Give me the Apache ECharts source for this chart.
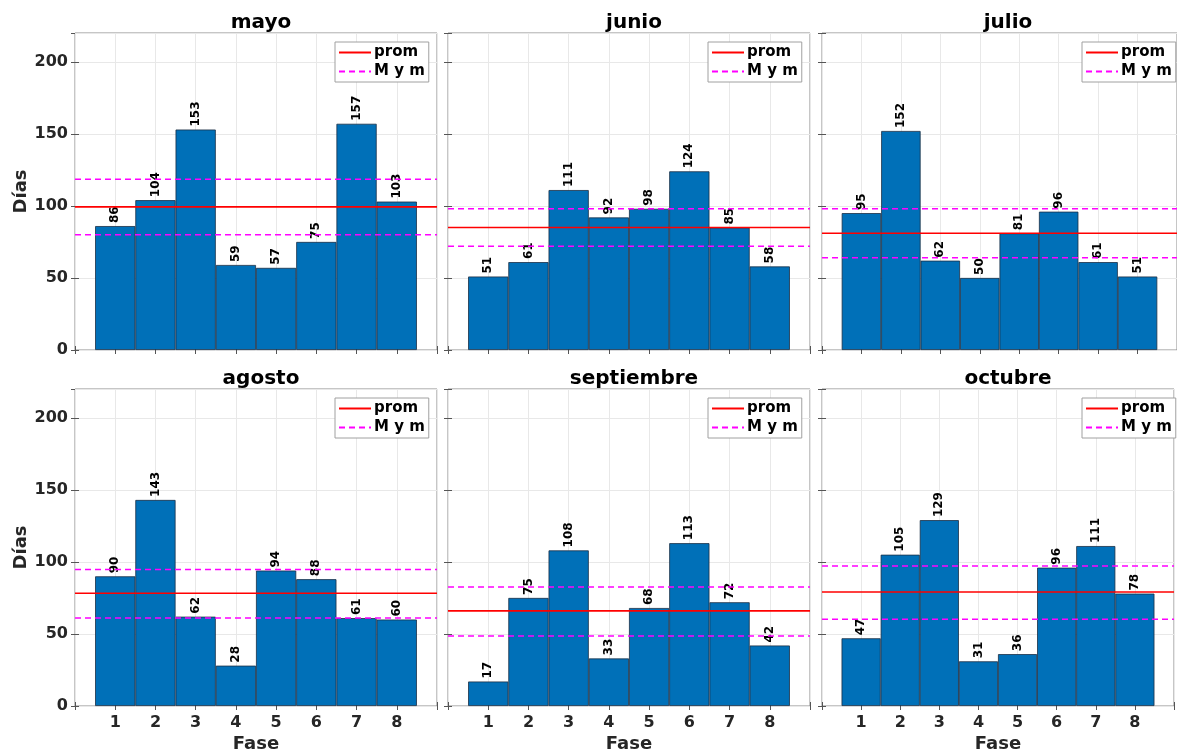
<!DOCTYPE html>
<html>
<head>
<meta charset="utf-8">
<script src="https://cdn.jsdelivr.net/npm/echarts@6/dist/echarts.min.js"></script>
<style>
html,body{margin:0;padding:0;background:#fff;}
#chart{width:1177px;height:756px;}
</style>
</head>
<body>
<div id="chart"></div>
<script>
// ---- data ----
const months = ['mayo', 'junio', 'julio', 'agosto', 'septiembre', 'octubre'];
const fases = [1, 2, 3, 4, 5, 6, 7, 8];
const yTicks = [0, 50, 100, 150, 200];
const mayo = [86, 104, 153, 59, 57, 75, 157, 103];
const junio = [51, 61, 111, 92, 98, 124, 85, 58];
const julio = [95, 152, 62, 50, 81, 96, 61, 51];
const agosto = [90, 143, 62, 28, 94, 88, 61, 60];
const septiembre = [17, 75, 108, 33, 68, 113, 72, 42];
const octubre = [47, 105, 129, 31, 36, 96, 111, 78];
const prom = [99.3, 85, 81, 78.3, 66, 79.1];
const mymUpper = [118.5, 98, 98, 94.7, 82.6, 97.2];
const mymLower = [80, 72, 64, 61, 48.6, 60.2];

const monthValues = [mayo, junio, julio, agosto, septiembre, octubre];

// ---- layout ----
const gridLefts = [75, 448, 822];
const gridTops = [33, 389];
const gridW = 362, gridH = 317;
const FONT = 'DejaVu Sans';

const grids = [], xAxes = [], yAxes = [], series = [], titles = [], legends = [];

months.forEach((m, i) => {
  const col = i % 3, row = Math.floor(i / 3);
  const gl = gridLefts[col], gt = gridTops[row];
  grids.push({left: gl, top: gt, width: gridW, height: gridH, show: true,
    borderColor: '#8c8c8c', borderWidth: 1, backgroundColor: '#fff', containLabel: false});

  const isBottom = row === 1, isLeft = col === 0;
  xAxes.push({
    gridIndex: i, type: 'value', min: 0, max: 9, interval: 1, position: 'bottom',
    axisLine: {show: false},
    axisTick: {show: true, inside: true, length: 4, lineStyle: {color: '#555', width: 1}},
    axisLabel: {show: isBottom, margin: 9, fontFamily: FONT, fontSize: 16, fontWeight: 'bold', color: '#262626',
      formatter: v => fases.includes(v) ? String(v) : ''},
    splitLine: {show: true, lineStyle: {color: '#e8e8e8', width: 1}},
    name: isBottom ? 'Fase' : '', nameLocation: 'middle', nameGap: 29,
    nameTextStyle: {fontFamily: FONT, fontSize: 18, fontWeight: 'bold', color: '#262626'}
  });
  xAxes.push({
    gridIndex: i, type: 'value', min: 0, max: 9, interval: 1, position: 'top',
    axisLine: {show: false},
    axisTick: {show: true, inside: true, length: 4, lineStyle: {color: '#555', width: 1}},
    axisLabel: {show: false}, splitLine: {show: false}
  });
  yAxes.push({
    gridIndex: i, type: 'value', min: 0, max: 220, interval: 50, position: 'left',
    axisLine: {show: false},
    axisTick: {show: true, inside: true, length: 4, lineStyle: {color: '#555', width: 1}},
    axisLabel: {show: isLeft, margin: 7, fontFamily: FONT, fontSize: 16, fontWeight: 'bold', color: '#262626',
      showMaxLabel: false, formatter: v => yTicks.includes(v) ? String(v) : ''},
    splitLine: {show: true, lineStyle: {color: '#e8e8e8', width: 1}},
    name: isLeft ? 'Días' : '', nameLocation: 'middle', nameGap: 34, nameRotate: 90,
    nameTextStyle: {fontFamily: FONT, fontSize: 18, fontWeight: 'bold', color: '#262626'}
  });
  yAxes.push({
    gridIndex: i, type: 'value', min: 0, max: 220, interval: 50, position: 'right',
    axisLine: {show: false},
    axisTick: {show: true, inside: true, length: 4, lineStyle: {color: '#555', width: 1}},
    axisLabel: {show: false}, splitLine: {show: false}
  });

  const xb = 2 * i, yl = 2 * i;
  series.push({
    type: 'bar', name: m, xAxisIndex: xb, yAxisIndex: yl,
    data: fases.map((f, j) => [f, monthValues[i][j]]),
    barWidth: '100%',
    itemStyle: {color: '#0070b8', borderColor: '#1b2f45', borderWidth: 0.8},
    label: {show: true, position: 'top', rotate: 90, align: 'left', verticalAlign: 'middle', distance: 3,
      fontFamily: FONT, fontSize: 12, fontWeight: 'bold', color: '#000',
      formatter: p => String(p.value[1])},
    z: 2
  });
  series.push({
    type: 'line', name: 'prom', xAxisIndex: xb, yAxisIndex: yl,
    data: [[0, prom[i]], [9, prom[i]]], symbol: 'none', silent: true,
    lineStyle: {color: '#ff0000', width: 1.6, type: 'solid'}, itemStyle: {color: '#ff0000'}, z: 3
  });
  series.push({
    type: 'line', name: 'M y m', xAxisIndex: xb, yAxisIndex: yl,
    data: [[0, mymUpper[i]], [9, mymUpper[i]]], symbol: 'none', silent: true,
    lineStyle: {color: '#ff00ff', width: 1.5, type: [6, 4]}, itemStyle: {color: '#ff00ff'}, z: 3
  });
  series.push({
    type: 'line', name: 'M y m', xAxisIndex: xb, yAxisIndex: yl,
    data: [[0, mymLower[i]], [9, mymLower[i]]], symbol: 'none', silent: true,
    lineStyle: {color: '#ff00ff', width: 1.5, type: [6, 4]}, itemStyle: {color: '#ff00ff'}, z: 3
  });

  titles.push({text: m, left: gl + gridW / 2, top: gt - 25, textAlign: 'center',
    textStyle: {fontFamily: FONT, fontSize: 20, fontWeight: 'bold', color: '#000'}});

  legends.push({
    data: ['prom', 'M y m'], orient: 'vertical', left: gl + 260, top: gt + 9,
    selectedMode: false, backgroundColor: '#fff', borderColor: '#a0a0a0', borderWidth: 1,
    borderRadius: 0, padding: [3, 4, 3, 3], itemGap: 4, itemWidth: 32, itemHeight: 14,
    itemStyle: {opacity: 0, borderWidth: 0},
    textStyle: {fontFamily: FONT, fontSize: 15, fontWeight: 'bold', color: '#000', padding: [0, 0, 0, -2]}
  });
});

const chart = echarts.init(document.getElementById('chart'), null, {renderer: 'canvas'});
chart.setOption({
  animation: false,
  backgroundColor: '#fff',
  title: titles,
  legend: legends,
  grid: grids,
  xAxis: xAxes,
  yAxis: yAxes,
  series: series
});
</script>
</body>
</html>
